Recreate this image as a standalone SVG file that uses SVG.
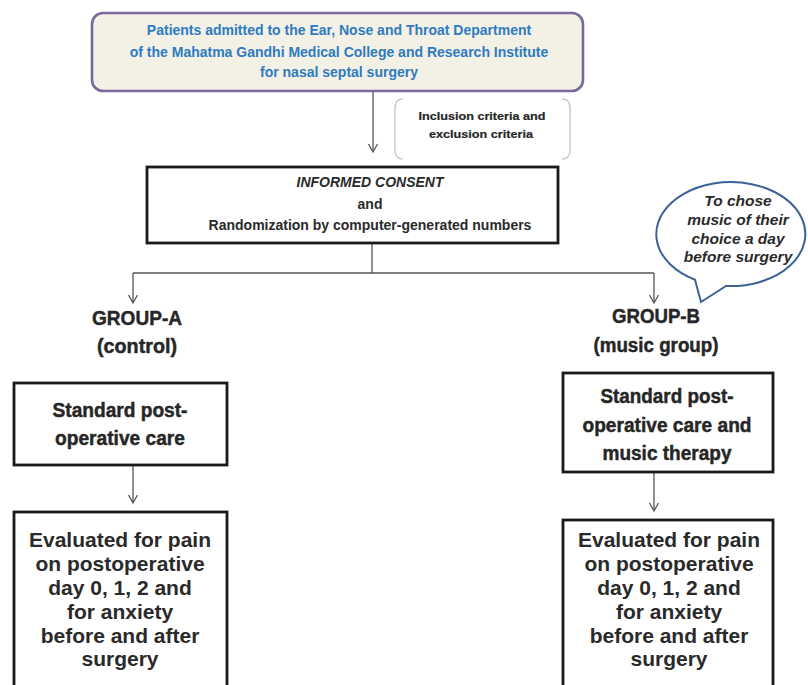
<svg xmlns="http://www.w3.org/2000/svg" width="808" height="685" viewBox="0 0 808 685">
<style>
.bx{fill:#ffffff;stroke:#1a1a1a;stroke-width:2.8}
.ar{font-family:"Liberation Sans",Arial,sans-serif;font-weight:bold;text-anchor:middle;fill:#2a2a2a}
.cb{font-family:"Liberation Sans",Arial,sans-serif;font-weight:bold;text-anchor:middle;fill:#262626;stroke:#262626;stroke-width:0.45}
.ln{fill:none;stroke:#555555;stroke-width:1.3}
</style>
<defs>
<marker id="ah" markerWidth="12" markerHeight="12" refX="10" refY="6" orient="auto" markerUnits="userSpaceOnUse" viewBox="0 0 12 12">
<path d="M2,1.5 L10,6 L2,10.5" fill="none" stroke="#555555" stroke-width="1.3"/>
</marker>
</defs>
<rect width="808" height="685" fill="#ffffff"/>
<g id="connectors">
<path class="ln" d="M373,92 V152" marker-end="url(#ah)"/>
<path class="ln" d="M372,244 V273 M133,273 H654"/>
<path class="ln" d="M133,273 V303" marker-end="url(#ah)"/>
<path class="ln" d="M654,273 V303" marker-end="url(#ah)"/>
<path class="ln" d="M133,466 V503" marker-end="url(#ah)"/>
<path class="ln" d="M654,473 V511" marker-end="url(#ah)"/>
</g>
<g id="patients">
<rect x="92" y="13" width="491" height="78" rx="11" fill="#f3f0e6" stroke="#7a6a9c" stroke-width="2.6"/>
<text class="ar" font-size="14" style="fill:#2f7bc0"><tspan x="339" y="35">Patients admitted to the Ear, Nose and Throat Department</tspan><tspan x="339" y="57">of the Mahatma Gandhi Medical College and Research Institute</tspan><tspan x="339" y="77">for nasal septal surgery</tspan></text>
</g>
<g id="criteria">
<path d="M403,99 Q395,99 395,108 V150 Q395,159 403,159 M562,99 Q570,99 570,108 V150 Q570,159 562,159" fill="none" stroke="#c4ccd8" stroke-width="1.5"/>
<text class="cb" font-size="11.5" style="stroke-width:0.2"><tspan x="482" y="120" textLength="127" lengthAdjust="spacingAndGlyphs">Inclusion criteria and</tspan><tspan x="481" y="138" textLength="104" lengthAdjust="spacingAndGlyphs">exclusion criteria</tspan></text>
</g>
<g id="consent">
<rect class="bx" x="147" y="167" width="411" height="76"/>
<text class="ar" font-size="14"><tspan x="370" y="187" font-style="italic">INFORMED CONSENT</tspan><tspan x="370" y="209">and</tspan><tspan x="370" y="230">Randomization by computer-generated numbers</tspan></text>
</g>
<g id="bubble">
<path d="M695,279.7 A74.5,52 0 1 1 726,286 L701,302 Z" fill="#ffffff" stroke="#3d6199" stroke-width="2"/>
<text class="ar" font-size="15.5" font-style="italic"><tspan x="738" y="206">To chose</tspan><tspan x="738" y="225">music of their</tspan><tspan x="738" y="244">choice a day</tspan><tspan x="738" y="262">before surgery</tspan></text>
</g>
<g id="groupA">
<text class="cb" font-size="20"><tspan x="137" y="325" textLength="90" lengthAdjust="spacingAndGlyphs">GROUP-A</tspan><tspan x="137" y="353" textLength="80" lengthAdjust="spacingAndGlyphs">(control)</tspan></text>
</g>
<g id="groupB">
<text class="cb" font-size="20"><tspan x="656" y="323" textLength="88" lengthAdjust="spacingAndGlyphs">GROUP-B</tspan><tspan x="656" y="352" textLength="125" lengthAdjust="spacingAndGlyphs">(music group)</tspan></text>
</g>
<g id="careA">
<rect class="bx" x="14" y="383" width="213" height="82"/>
<text class="cb" font-size="20"><tspan x="120" y="417" textLength="135" lengthAdjust="spacingAndGlyphs">Standard post-</tspan><tspan x="120" y="445" textLength="130" lengthAdjust="spacingAndGlyphs">operative care</tspan></text>
</g>
<g id="careB">
<rect class="bx" x="563" y="373" width="210" height="99"/>
<text class="cb" font-size="20"><tspan x="667" y="403" textLength="133" lengthAdjust="spacingAndGlyphs">Standard post-</tspan><tspan x="667" y="432" textLength="169" lengthAdjust="spacingAndGlyphs">operative care and</tspan><tspan x="667" y="460" textLength="129" lengthAdjust="spacingAndGlyphs">music therapy</tspan></text>
</g>
<g id="evalA">
<rect class="bx" x="14" y="512" width="213" height="190"/>
<text class="ar" font-size="21"><tspan x="120" y="547">Evaluated for pain</tspan><tspan x="120" y="571">on postoperative</tspan><tspan x="120" y="595">day 0, 1, 2 and</tspan><tspan x="120" y="619">for anxiety</tspan><tspan x="120" y="643">before and after</tspan><tspan x="120" y="666">surgery</tspan></text>
</g>
<g id="evalB">
<rect class="bx" x="563" y="520" width="210" height="190"/>
<text class="ar" font-size="21"><tspan x="669" y="547">Evaluated for pain</tspan><tspan x="669" y="571">on postoperative</tspan><tspan x="669" y="595">day 0, 1, 2 and</tspan><tspan x="669" y="619">for anxiety</tspan><tspan x="669" y="643">before and after</tspan><tspan x="669" y="666">surgery</tspan></text>
</g>
</svg>
